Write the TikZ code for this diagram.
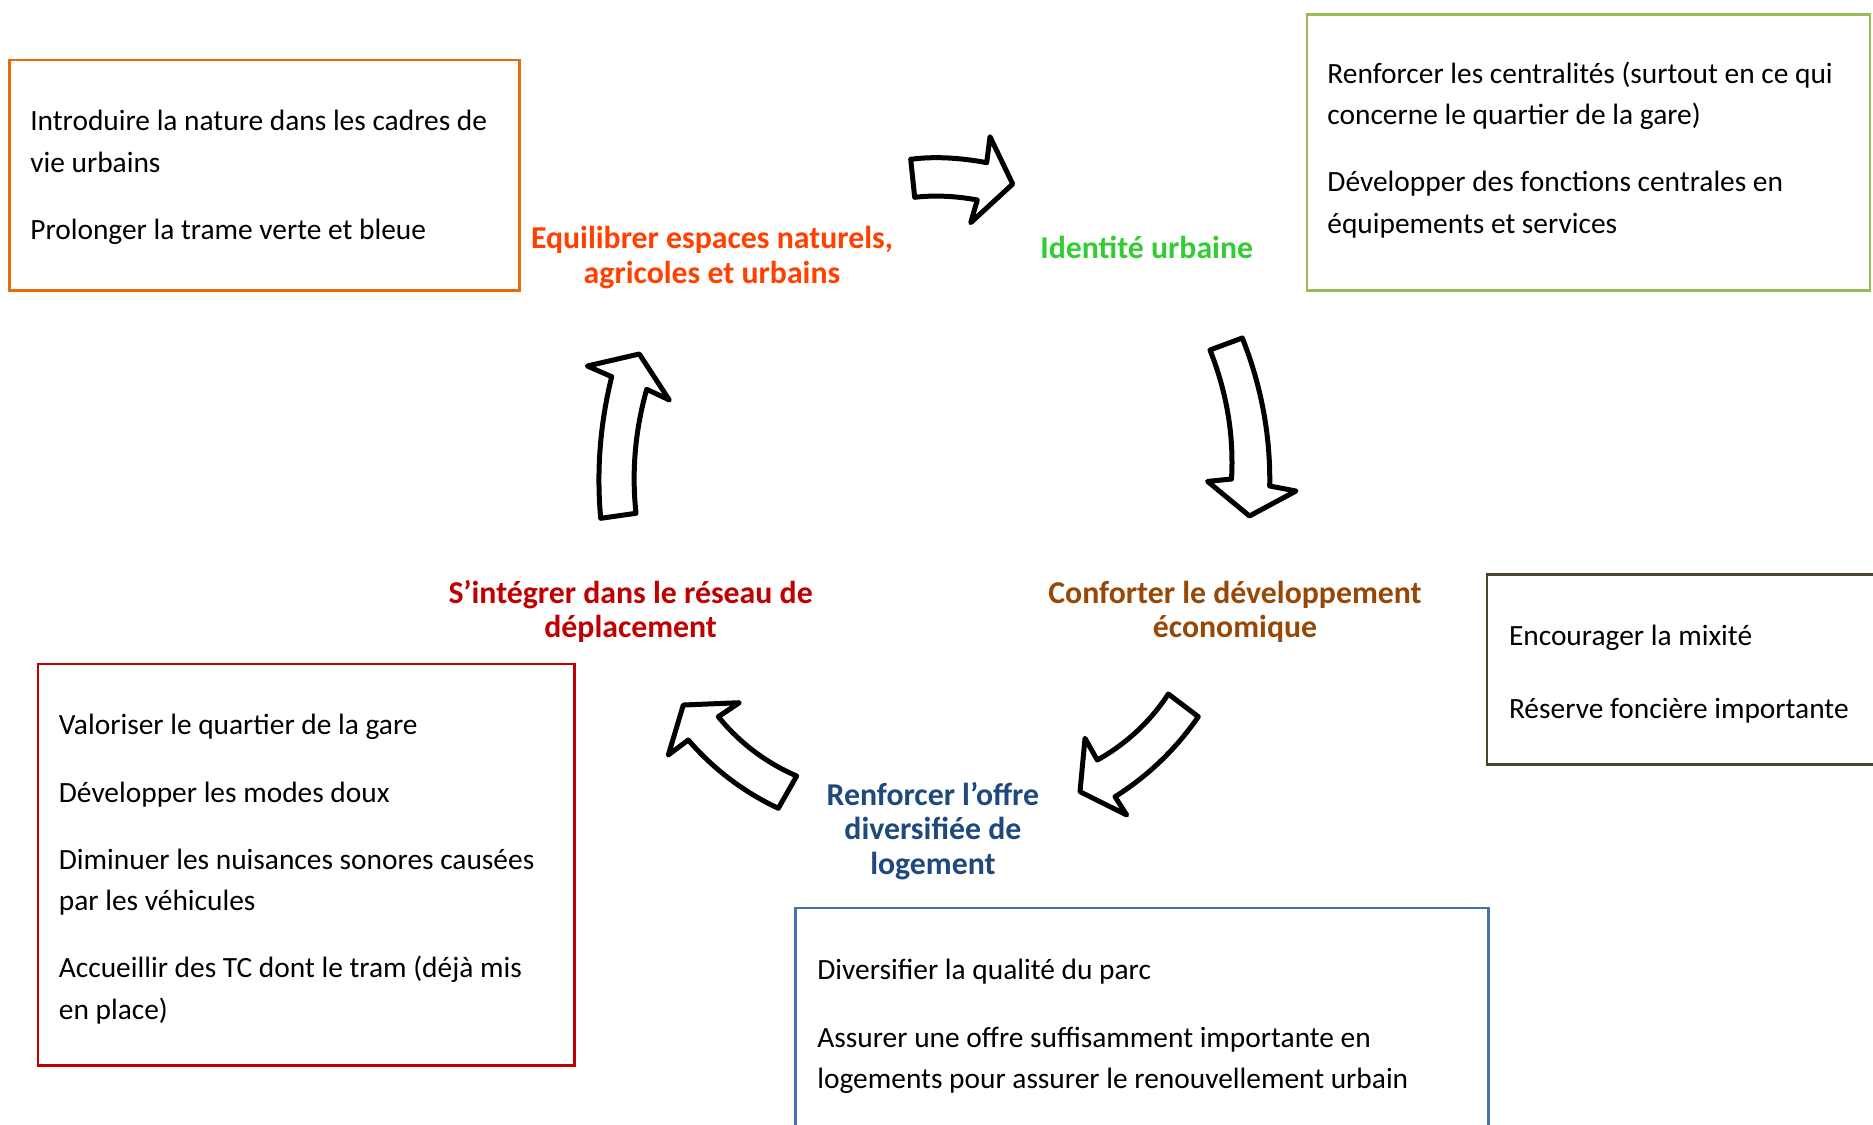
\documentclass[tikz,border=0pt]{standalone}
\usepackage{fontspec}
\setmainfont{Carlito}
\usetikzlibrary{fit}

\definecolor{boxorange}{HTML}{E46C0A}
\definecolor{boxgreen}{HTML}{9BBB59}
\definecolor{boxbrown}{HTML}{4A452A}
\definecolor{boxred}{HTML}{C00000}
\definecolor{boxblue}{HTML}{4672B4}
\definecolor{lblorange}{HTML}{FF4000}
\definecolor{lblgreen}{HTML}{33CC33}
\definecolor{lblbrown}{HTML}{984806}
\definecolor{lblred}{HTML}{C00000}
\definecolor{lblblue}{HTML}{1F497D}

\tikzset{
  themebox/.style={draw=#1, line width=1.2pt, inner sep=0pt, fill=none},
  % multi-line nodes sit on the baseline of their last line
  bodytext/.style={anchor=base west, inner sep=0pt, align=left,
    font=\fontsize{14.7}{20.75}\selectfont},
  theme/.style={anchor=base, inner sep=0pt, align=center, text=#1,
    font=\fontsize{15.9}{17.3}\selectfont\bfseries},
  blockarrow/.style={draw=black, fill=white, line width=2.5pt, line join=round}
}

\begin{document}
\begin{tikzpicture}[x=0.5pt, y=-0.5pt]
\useasboundingbox (0,0) rectangle (1873,1124);
\clip (0,0) rectangle (1873,1124);
\fill[white] (0,0) rectangle (1873,1124);

% ---- frames with the actions of each theme ----
\node[themebox=boxorange, fit={(9.6,59.7) (519.6,290.3)}] (nature) {};
\node[themebox=boxgreen,  fit={(1306.8,14.3) (1870,290.3)}] (centre) {};
\node[themebox=boxbrown,  fit={(1487,574.6) (1890,764.5)}] (eco) {};
\node[themebox=boxred,    fit={(38.2,664.1) (574.6,1065.5)}] (mobil) {};
\node[themebox=boxblue,   fit={(795.5,907.8) (1488.3,1140)}] (habitat) {};

\node[bodytext] (n1) at (29.9,172.3) {Introduire la nature dans les cadres de\\vie urbains};
\node[bodytext] (n2) at (29.9,239.5) {Prolonger la trame verte et bleue};

\node[bodytext] (c1) at (1327,124.6) {Renforcer les centralités (surtout en ce qui\\concerne le quartier de la gare)};
\node[bodytext] (c2) at (1327,233.3) {Développer des fonctions centrales en\\équipements et services};

\node[bodytext] (e1) at (1508.6,645.7) {Encourager la mixité};
\node[bodytext] (e2) at (1508.6,718.5) {Réserve foncière importante};

\node[bodytext] (m1) at (58.5,734) {Valoriser le quartier de la gare};
\node[bodytext] (m2) at (58.5,802.1) {Développer les modes doux};
\node[bodytext] (m3) at (58.5,910.5) {Diminuer les nuisances sonores causées\\par les véhicules};
\node[bodytext] (m4) at (58.5,1019.2) {Accueillir des TC dont le tram (déjà mis\\en place)};

\node[bodytext] (h1) at (817,979) {Diversifier la qualité du parc};
\node[bodytext] (h2) at (817,1088.5) {Assurer une offre suffisamment importante en\\logements pour assurer le renouvellement urbain};

% ---- theme titles ----
\node[theme=lblorange] (tEq)  at (712,283)      {Equilibrer espaces naturels,\\agricoles et urbains};
\node[theme=lblgreen]  (tId)  at (1146.7,258)   {Identité urbaine};
\node[theme=lblbrown]  (tCo)  at (1235,637.8)   {Conforter le développement\\économique};
\node[theme=lblred]    (tSi)  at (630.7,637.8)  {S’intégrer dans le réseau de\\déplacement};
\node[theme=lblblue]   (tRe)  at (932.9,874.2)  {Renforcer l’offre\\diversifiée de\\logement};

% ---- cycle of block arrows ----
% towards "Identité urbaine"
\draw[blockarrow] (910.7,159.3) .. controls (935,156) and (962,158) .. (986.7,162.7)
  -- (990,136.7) -- (1012.7,184) -- (970.7,222.7) -- (977.3,200)
  .. controls (956,196) and (934,195) .. (914.7,197.3) -- cycle;
% towards "Conforter le développement économique"
\draw[blockarrow] (1210,350) -- (1242.3,338)
  .. controls (1261,385) and (1270.6,435) .. (1269.7,486)
  -- (1296,491) -- (1249.5,516) -- (1207.6,481.4) -- (1231.5,479)
  .. controls (1234,436) and (1227,393) .. cycle;
% towards "Renforcer l'offre diversifiée de logement"
\draw[blockarrow] (1168.3,694) -- (1198.3,716.7)
  .. controls (1176,749) and (1148,776) .. (1115,796.7)
  -- (1126.7,815) -- (1080,791.7) -- (1085,738.3) -- (1097.3,760)
  .. controls (1126,744) and (1150,722) .. cycle;
% towards "S'intégrer dans le réseau de déplacement"
\draw[blockarrow] (796.7,776) -- (778.3,808.3)
  .. controls (743.5,791.9) and (713.5,769.2) .. (688.3,740)
  -- (668.3,755) -- (683.3,705) -- (739.3,702.7) -- (718.3,716.7)
  .. controls (739.6,742.9) and (765.8,762.6) .. cycle;
% towards "Equilibrer espaces naturels, agricoles et urbains"
\draw[blockarrow] (600.7,518.3) -- (636,513.3)
  .. controls (631.6,472) and (635,430.6) .. (646.7,389.3)
  -- (669.3,400) -- (639.3,354) -- (587.3,366) -- (611.7,376.7)
  .. controls (600,424) and (596.4,471) .. cycle;
\end{tikzpicture}
\end{document}
